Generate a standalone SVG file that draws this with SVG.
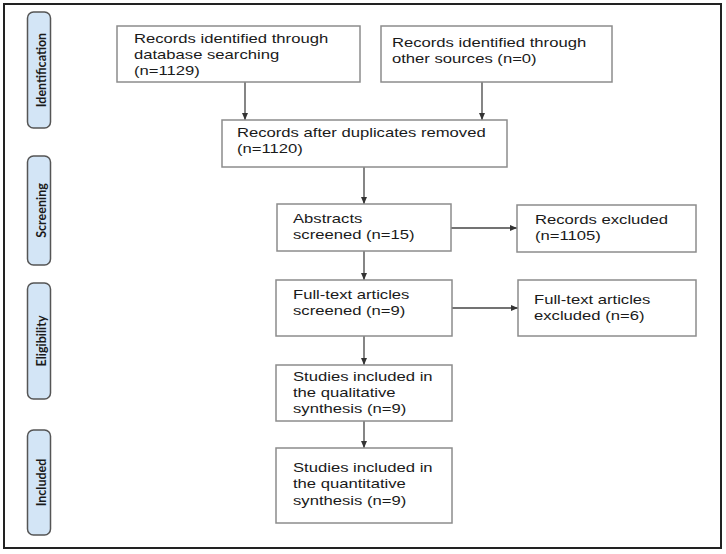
<svg xmlns="http://www.w3.org/2000/svg" width="726" height="554" viewBox="0 0 726 554">
<style>
.frame{fill:#fff;stroke:#222;stroke-width:2}
.phase{fill:#d3e5f6;stroke:#555;stroke-width:1.5}
.ptxt{font-family:Lato,"Open Sans",sans-serif;font-weight:bold;font-size:12.5px;fill:#1a1a1a;text-anchor:middle}
.box{fill:#fff;stroke:#8c8c8c;stroke-width:1.5}
.t{font-family:"Liberation Sans",Arial,sans-serif;font-size:13px;fill:#1a1a1a}
.c{stroke:#444;stroke-width:1.3;fill:none;marker-end:url(#ah)}
</style>
<defs>
<marker id="ah" markerUnits="userSpaceOnUse" markerWidth="7" markerHeight="6" refX="7" refY="3" orient="auto">
<path d="M0,0 L7,3 L0,6 Z" fill="#333"/>
</marker>
</defs>
<rect class="frame" x="4" y="4" width="717" height="544"/>

<g id="phase-identification">
<rect class="phase" x="27.5" y="12" width="23" height="116" rx="6"/>
<text class="ptxt" transform="translate(46,70) rotate(-90)">Identification</text>
</g>
<g id="phase-screening">
<rect class="phase" x="27.5" y="156" width="23" height="109" rx="6"/>
<text class="ptxt" transform="translate(46,210.5) rotate(-90)">Screening</text>
</g>
<g id="phase-eligibility">
<rect class="phase" x="27.5" y="283" width="23" height="116" rx="6"/>
<text class="ptxt" transform="translate(46,341) rotate(-90)">Eligibility</text>
</g>
<g id="phase-included">
<rect class="phase" x="27.5" y="430" width="23" height="105" rx="6"/>
<text class="ptxt" transform="translate(46,482.5) rotate(-90)">Included</text>
</g>

<g id="connectors">
<line class="c" x1="245" y1="82" x2="245" y2="120"/>
<line class="c" x1="482" y1="82" x2="482" y2="120"/>
<line class="c" x1="364" y1="167" x2="364" y2="204"/>
<line class="c" x1="451" y1="228" x2="517" y2="228"/>
<line class="c" x1="364" y1="251" x2="364" y2="280"/>
<line class="c" x1="452" y1="308" x2="518" y2="308"/>
<line class="c" x1="364" y1="336" x2="364" y2="365"/>
<line class="c" x1="364" y1="421" x2="364" y2="448"/>
</g>

<g id="n1">
<rect class="box" x="117" y="26" width="243" height="56"/>
<text class="t" transform="translate(134,43) scale(1.28,1)"><tspan x="0" y="0">Records identified through</tspan><tspan x="0" y="16">database searching</tspan><tspan x="0" y="32">(n=1129)</tspan></text>
</g>
<g id="n2">
<rect class="box" x="381" y="26" width="231" height="56"/>
<text class="t" transform="translate(392,47) scale(1.28,1)"><tspan x="0" y="0">Records identified through</tspan><tspan x="0" y="16">other sources (n=0)</tspan></text>
</g>
<g id="n3">
<rect class="box" x="222" y="120" width="285" height="47"/>
<text class="t" transform="translate(237,137) scale(1.28,1)"><tspan x="0" y="0">Records after duplicates removed</tspan><tspan x="0" y="16">(n=1120)</tspan></text>
</g>
<g id="n4">
<rect class="box" x="277" y="204" width="174" height="47"/>
<text class="t" transform="translate(293,223) scale(1.28,1)"><tspan x="0" y="0">Abstracts</tspan><tspan x="0" y="16">screened (n=15)</tspan></text>
</g>
<g id="n5">
<rect class="box" x="517" y="205" width="179" height="47"/>
<text class="t" transform="translate(535,224) scale(1.28,1)"><tspan x="0" y="0">Records excluded</tspan><tspan x="0" y="16">(n=1105)</tspan></text>
</g>
<g id="n6">
<rect class="box" x="276" y="280" width="176" height="56"/>
<text class="t" transform="translate(293,299) scale(1.28,1)"><tspan x="0" y="0">Full-text articles</tspan><tspan x="0" y="16">screened (n=9)</tspan></text>
</g>
<g id="n7">
<rect class="box" x="518" y="280" width="178" height="56"/>
<text class="t" transform="translate(534,304) scale(1.28,1)"><tspan x="0" y="0">Full-text articles</tspan><tspan x="0" y="16">excluded (n=6)</tspan></text>
</g>
<g id="n8">
<rect class="box" x="276" y="365" width="176" height="56"/>
<text class="t" transform="translate(293,381) scale(1.28,1)"><tspan x="0" y="0">Studies included in</tspan><tspan x="0" y="16">the qualitative</tspan><tspan x="0" y="32">synthesis (n=9)</tspan></text>
</g>
<g id="n9">
<rect class="box" x="276" y="448" width="176" height="75"/>
<text class="t" transform="translate(293,472) scale(1.28,1)"><tspan x="0" y="0">Studies included in</tspan><tspan x="0" y="16.5">the quantitative</tspan><tspan x="0" y="33">synthesis (n=9)</tspan></text>
</g>
</svg>
